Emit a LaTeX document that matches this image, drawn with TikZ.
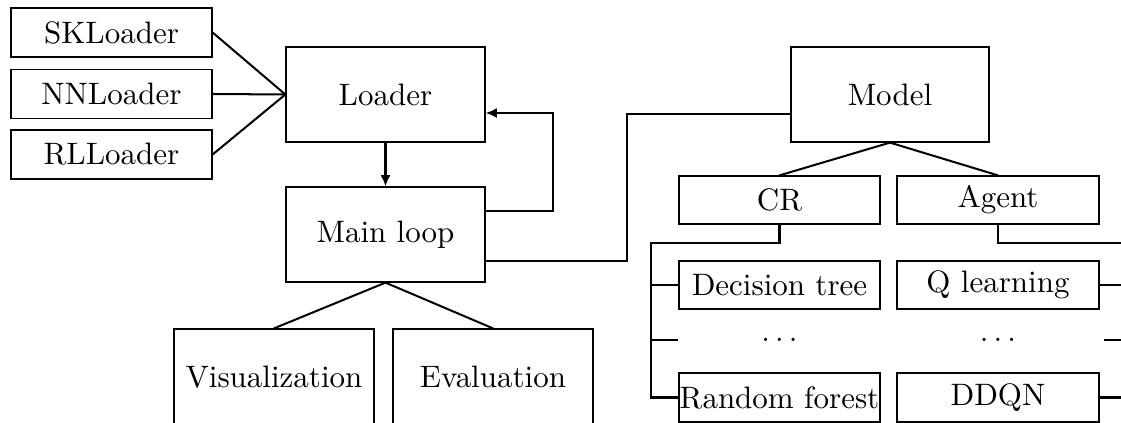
\documentclass[tikz,border=0pt]{standalone}
\usetikzlibrary{arrows.meta}
\begin{document}
\begin{tikzpicture}[x=0.3226pt,y=-0.3226pt,
  bx/.style 2 args={draw, line width=0.4pt, inner sep=0pt,
    minimum width=#1*0.3226pt, minimum height=#2*0.3226pt},
  nb/.style 2 args={inner sep=0pt,
    minimum width=#1*0.3226pt, minimum height=#2*0.3226pt},
  conn/.style={line width=0.65pt},
  arr/.style={line width=0.65pt,-{Latex[length=3.6pt,width=3.2pt]}}]
\useasboundingbox (0,0) rectangle (1121,423);
\clip (0,0) rectangle (1121,423);
% loaders
\node[bx={201}{49}] (sk) at (111.5,32.5) {SKLoader};
\node[bx={201}{49}] (nn) at (111.5,94) {NNLoader};
\node[bx={201}{49}] (rl) at (111.5,154.5) {RLLoader};
% main column
\node[bx={199}{95}] (loader) at (385.5,94.5) {Loader};
\node[bx={199}{95}] (main) at (385.5,234.5) {Main loop};
\node[bx={200}{96}] (vis) at (274,377) {Visualization};
\node[bx={200}{96}] (eval) at (493,377) {Evaluation};
% model column
\node[bx={198}{95}] (model) at (890,94.5) {Model};
\node[bx={201}{48}] (cr) at (779.5,200) {CR};
\node[bx={202}{48}] (agent) at (998,200) {Agent};
\node[bx={201}{48}] (dt) at (779.5,285) {Decision tree};
\node[nb={201}{48}] (d1) at (779.5,340) {$\ldots$};
\node[bx={201}{49}] (rf) at (779.5,397.5) {Random forest};
\node[bx={202}{48}] (ql) at (998,285) {Q learning};
\node[nb={210}{48}] (d2) at (998,340) {$\ldots$};
\node[bx={202}{49}] (ddqn) at (998,397.5) {DDQN};
% connectors: loaders
\draw[conn] (sk.east) -- (loader.west);
\draw[conn] (nn.east) -- (loader.west);
\draw[conn] (rl.east) -- (loader.west);
\draw[arr] (loader.south) -- (main.north);
\coordinate (f1) at (553,211);
\coordinate (f2) at (553,113);
\draw[arr] (f1 -| main.east) -- (f1) -- (f2) -- (f2 -| loader.east);
\coordinate (m1) at (627,261);
\coordinate (m2) at (627,114);
\draw[conn] (m1 -| main.east) -- (m1) -- (m2) -- (m2 -| model.west);
\draw[conn] (main.south) -- (vis.north);
\draw[conn] (main.south) -- (eval.north);
\draw[conn] (model.south) -- (cr.north);
\draw[conn] (model.south) -- (agent.north);
% CR tree
\coordinate (cl) at (651,243);
\draw[conn] (cr.south) |- (cl) -- (cl |- rf.west) -- (rf.west);
\draw[conn] (cl |- dt.west) -- (dt.west);
\draw[conn] (cl |- d1.west) -- (d1.west);
% Agent tree
\coordinate (ar) at (1127,243);
\draw[conn] (agent.south) |- (ar) -- (ar |- ddqn.east) -- (ddqn.east);
\draw[conn] (ql.east) -- (ql.east -| ar);
\draw[conn] (d2.east) -- (d2.east -| ar);
\end{tikzpicture}
\end{document}
